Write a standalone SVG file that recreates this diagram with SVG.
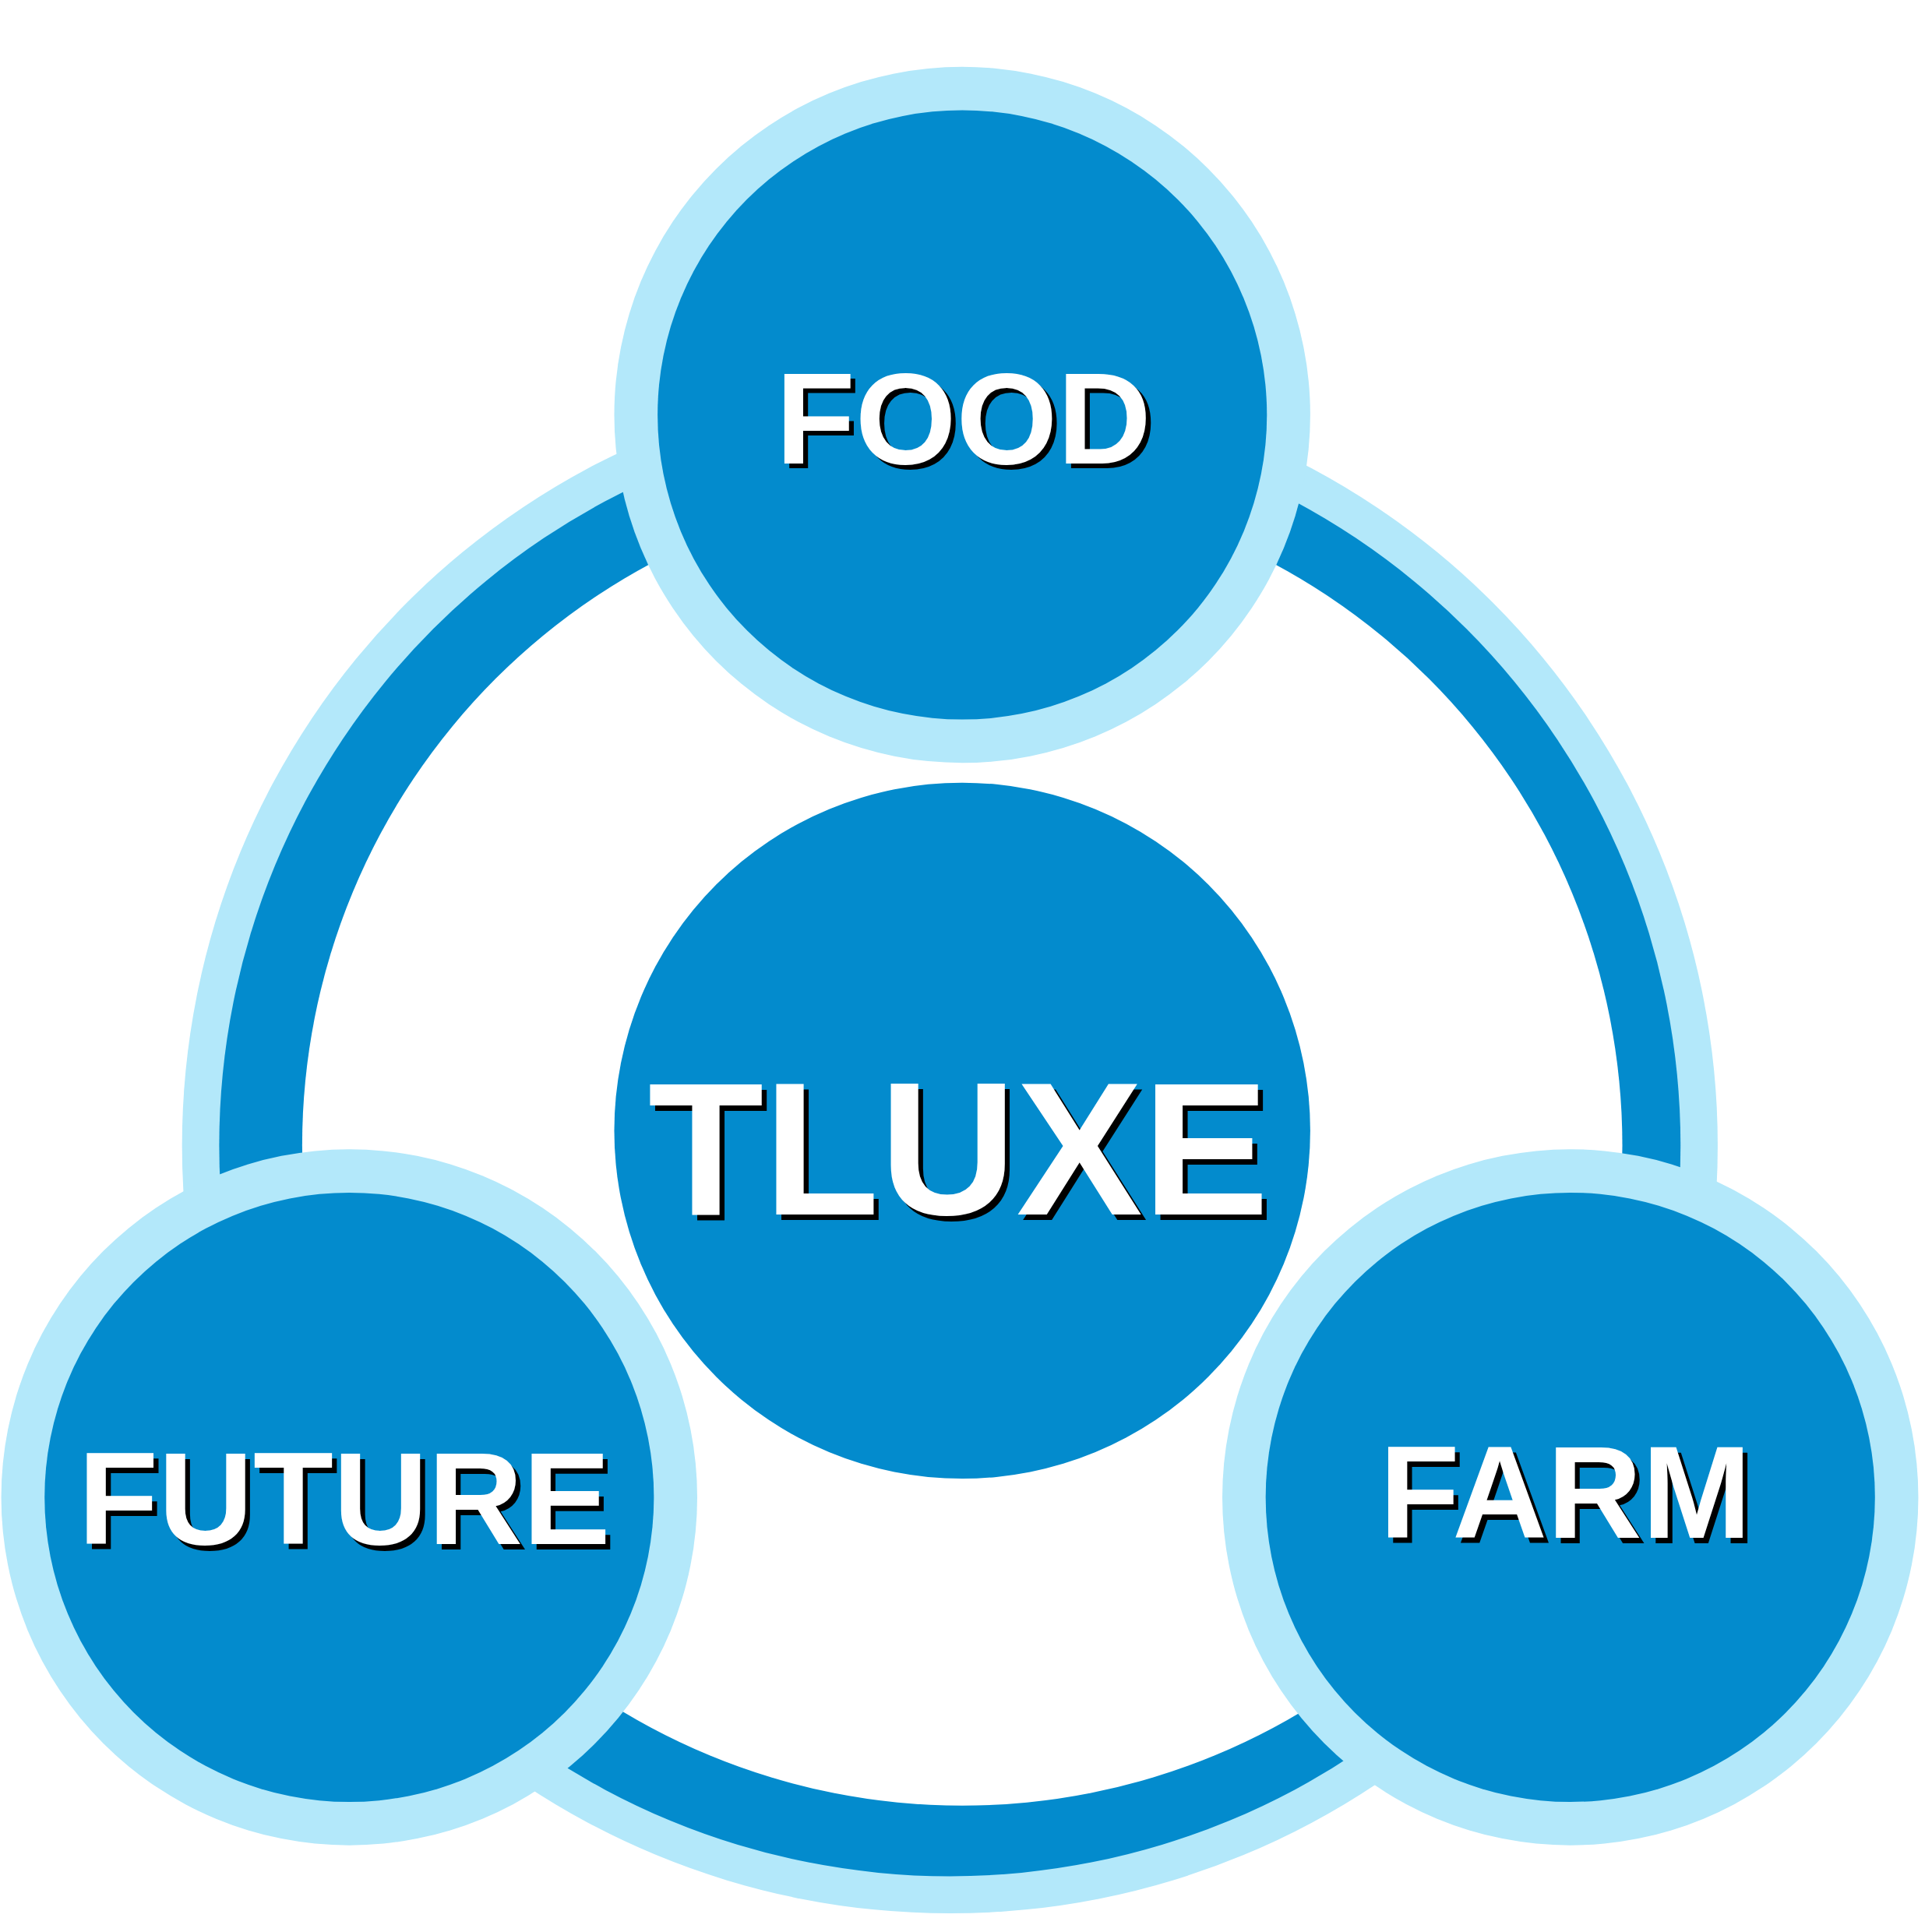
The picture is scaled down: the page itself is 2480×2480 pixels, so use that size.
<svg xmlns="http://www.w3.org/2000/svg" width="2480" height="2480" viewBox="0 0 2480 2480">
<style>
.lb{fill:#b3e8fa}.db{fill:#038bcd}.w{fill:#fff}
.t{font-family:"Liberation Sans",Arial,sans-serif;font-weight:bold;text-anchor:middle}
.sh{fill:#000}.tx{fill:#fff}
</style>
<rect width="2480" height="2480" fill="#fff"/>
<g transform="scale(1.5897)">
<g id="ring">
<circle cx="767" cy="925" r="620" class="lb"/>
<circle cx="767" cy="925" r="590" class="db"/>
<circle cx="777" cy="925" r="533" class="w"/>
</g>
<g id="center">
<circle cx="777" cy="913" r="281" class="db"/>
<text class="t sh" x="778" y="985" font-size="153">TLUXE</text>
<text class="t tx" x="774" y="981" font-size="153">TLUXE</text>
</g>
<g id="food">
<circle cx="777" cy="335" r="281" class="lb"/>
<circle cx="777" cy="335" r="246" class="db"/>
<text class="t sh" x="782" y="378" font-size="105">FOOD</text>
<text class="t tx" x="778" y="374" font-size="105">FOOD</text>
</g>
<g id="future">
<circle cx="282" cy="1209" r="281" class="lb"/>
<circle cx="282" cy="1209" r="246" class="db"/>
<text class="t sh" x="282" y="1251" font-size="106">FUTURE</text>
<text class="t tx" x="278" y="1247" font-size="106">FUTURE</text>
</g>
<g id="farm">
<circle cx="1268" cy="1209" r="281" class="lb"/>
<circle cx="1268" cy="1209" r="246" class="db"/>
<text class="t sh" x="1268" y="1246" font-size="106">FARM</text>
<text class="t tx" x="1264" y="1242" font-size="106">FARM</text>
</g>
</g>
</svg>
